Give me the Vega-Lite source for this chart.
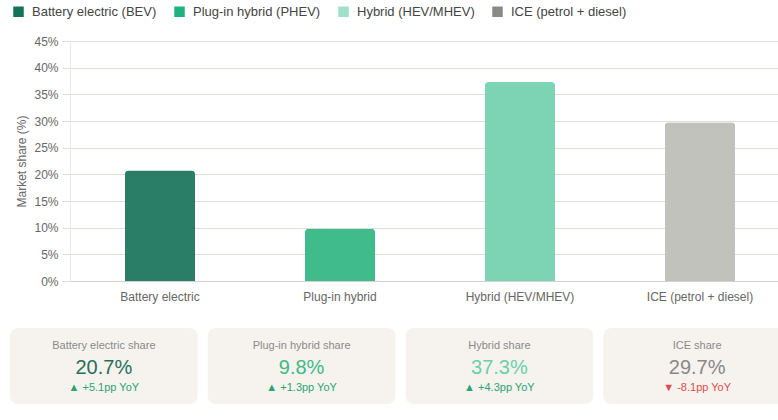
{
  "$schema": "https://vega.github.io/schema/vega-lite/v6.json",
  "padding": {"left": 10, "top": 3, "right": 0, "bottom": 0},
  "background": "white",
  "config": {"font": "Liberation Sans", "view": {"stroke": null}},
  "datasets": {
    "shares": [
      {"type": "BEV", "label": "Battery electric", "legend": "Battery electric (BEV)", "share": 20.7, "card": "Battery electric share", "change": "▲ +5.1pp YoY", "dir": "up"},
      {"type": "PHEV", "label": "Plug-in hybrid", "legend": "Plug-in hybrid (PHEV)", "share": 9.8, "card": "Plug-in hybrid share", "change": "▲ +1.3pp YoY", "dir": "up"},
      {"type": "HEV", "label": "Hybrid (HEV/MHEV)", "legend": "Hybrid (HEV/MHEV)", "share": 37.3, "card": "Hybrid share", "change": "▲ +4.3pp YoY", "dir": "up"},
      {"type": "ICE", "label": "ICE (petrol + diesel)", "legend": "ICE (petrol + diesel)", "share": 29.7, "card": "ICE share", "change": "▼ -8.1pp YoY", "dir": "down"}
    ]
  },
  "spacing": 26,
  "resolve": {"scale": {"x": "independent", "y": "independent", "color": "independent", "fill": "independent"}},
  "vconcat": [
    {
      "width": 720,
      "height": 240,
      "data": {"name": "shares"},
      "encoding": {
        "x": {
          "field": "label", "type": "nominal", "sort": null,
          "scale": {"paddingInner": 0, "paddingOuter": 0},
          "axis": {"title": null, "labelAngle": 0, "ticks": false, "tickSize": 0, "labelPadding": 10, "labelFontSize": 12, "labelColor": "#666", "domainColor": "#d4d2ca", "grid": false}
        },
        "y": {
          "field": "share", "type": "quantitative",
          "scale": {"domain": [0, 45]},
          "axis": {
            "title": "Market share (%)", "values": [0, 5, 10, 15, 20, 25, 30, 35, 40, 45],
            "labelExpr": "datum.value + '%'", "labelFontSize": 12, "labelColor": "#666", "labelPadding": 4,
            "tickSize": 8, "tickColor": "#e0ded6", "gridColor": "#e0ded6", "domainColor": "#e8e8e8",
            "titleFontSize": 12, "titleFontWeight": "normal", "titleColor": "#666", "titlePadding": 5
          }
        }
      },
      "layer": [
        {
          "mark": {"type": "bar", "width": {"band": 0.39}, "cornerRadiusTopLeft": 4, "cornerRadiusTopRight": 4},
          "encoding": {
            "color": {
              "field": "legend", "type": "nominal", "sort": null,
              "scale": {"domain": ["Battery electric (BEV)", "Plug-in hybrid (PHEV)", "Hybrid (HEV/MHEV)", "ICE (petrol + diesel)"], "range": ["#137258", "#1fb27e", "#9fe0c9", "#8a8a85"]},
              "legend": {"title": null, "orient": "none", "legendX": -60, "legendY": -38, "direction": "horizontal", "symbolType": "square", "symbolSize": 110, "symbolStrokeWidth": 0, "labelFontSize": 13, "labelColor": "#444", "labelOffset": 7, "columnPadding": 16, "padding": 2}
            }
          }
        },
        {
          "mark": {"type": "bar", "width": {"band": 0.39}, "cornerRadiusTopLeft": 4, "cornerRadiusTopRight": 4},
          "encoding": {
            "fill": {
              "field": "type", "type": "nominal",
              "scale": {"domain": ["BEV", "PHEV", "HEV", "ICE"], "range": ["#2a7d66", "#3fbb8c", "#7dd4b5", "#c2c2bd"]},
              "legend": null
            }
          }
        }
      ]
    },
    {
      "width": 720,
      "height": 76,
      "data": {"name": "shares"},
      "encoding": {
        "x": {"field": "card", "type": "nominal", "sort": null, "scale": {"range": [-60, 721], "paddingInner": 0.051, "paddingOuter": 0}, "axis": null}
      },
      "layer": [
        {"mark": {"type": "rect", "cornerRadius": 8, "color": "#f6f3ee"}},
        {
          "mark": {"type": "text", "dy": -20, "fontSize": 11, "color": "#8a8a8a", "baseline": "middle"},
          "encoding": {"text": {"field": "card"}}
        },
        {
          "mark": {"type": "text", "dy": 2, "fontSize": 20, "baseline": "middle", "text": {"expr": "format(datum.share, '.1f') + '%'"}},
          "encoding": {
            "fill": {"field": "type", "type": "nominal", "scale": {"domain": ["BEV", "PHEV", "HEV", "ICE"], "range": ["#25705a", "#41b886", "#6ccfab", "#888888"]}, "legend": null}
          }
        },
        {
          "mark": {"type": "text", "dy": 22, "fontSize": 11, "baseline": "middle"},
          "encoding": {
            "text": {"field": "change"},
            "color": {"field": "dir", "type": "nominal", "scale": {"domain": ["up", "down"], "range": ["#2ba471", "#e5484d"]}, "legend": null}
          }
        }
      ]
    }
  ]
}
